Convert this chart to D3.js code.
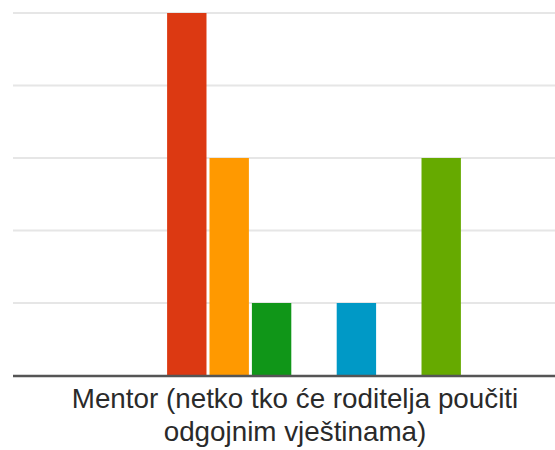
<!DOCTYPE html>
<html>
<head>
<meta charset="utf-8">
<script src="https://cdn.jsdelivr.net/npm/d3@7"></script>
<style>
  html, body { margin: 0; padding: 0; background: #fff; }
  svg { display: block; }
</style>
</head>
<body>
<svg id="chart" width="555" height="450"></svg>
<script>
// ---- data ----
const categories = ["Mentor (netko tko će roditelja poučiti odgojnim vještinama)"];
const categoryLines = [["Mentor (netko tko će roditelja poučiti", "odgojnim vještinama)"]];
const seriesNames = ["1", "2", "3", "4", "5", "6", "7", "8"];
const seriesValues = [0, 5, 3, 1, 0, 1, 0, 3];
const seriesColors = ["#3366cc", "#dc3912", "#ff9900", "#109618", "#990099", "#0099c6", "#dd4477", "#66aa00"];
const yTicks = [0, 1, 2, 3, 4, 5];

// ---- layout ----
const svg = d3.select("#chart");
const plot = { left: 13, right: 581, top: 13, bottom: 375.5 };

const y = d3.scaleLinear().domain([0, 5]).range([plot.bottom, plot.top]);
const x0 = d3.scaleBand().domain(categories).range([plot.left, plot.right]);
const groupWidth = 336.2;
const x1 = d3.scaleBand().domain(seriesNames)
  .range([0, groupWidth]).paddingInner(0.071).paddingOuter(0);

// gridlines
svg.append("g")
  .selectAll("line")
  .data(yTicks.filter(d => d > 0))
  .join("line")
  .attr("x1", plot.left)
  .attr("x2", 555)
  .attr("y1", d => y(d))
  .attr("y2", d => y(d))
  .attr("stroke", "#e6e6e6")
  .attr("stroke-width", 2);

// bars
const g = svg.append("g");
categories.forEach((cat, ci) => {
  const gx = x0(cat) + x0.bandwidth() / 2 - groupWidth / 2 - 4.2;
  g.selectAll(null)
    .data(seriesValues.map((v, i) => ({ v, i })))
    .join("rect")
    .attr("x", d => gx + x1(seriesNames[d.i]))
    .attr("width", x1.bandwidth())
    .attr("y", d => y(d.v))
    .attr("height", d => y(0) - y(d.v))
    .attr("fill", d => seriesColors[d.i]);

  // category label
  const t = svg.append("text")
    .attr("text-anchor", "middle")
    .attr("font-family", "'Liberation Sans', Arial, sans-serif")
    .attr("font-size", 27.8)
    .attr("fill", "#2a2a2a");
  categoryLines[ci].forEach((ln, li) => {
    t.append("tspan")
      .attr("x", x0(cat) + x0.bandwidth() / 2 - 2)
      .attr("y", 407.8 + li * 32.7)
      .text(ln);
  });
});

// baseline
svg.append("line")
  .attr("x1", plot.left)
  .attr("x2", 555)
  .attr("y1", y(0) + 0.5)
  .attr("y2", y(0) + 0.5)
  .attr("stroke", "#555555")
  .attr("stroke-width", 2.5);
</script>
</body>
</html>
